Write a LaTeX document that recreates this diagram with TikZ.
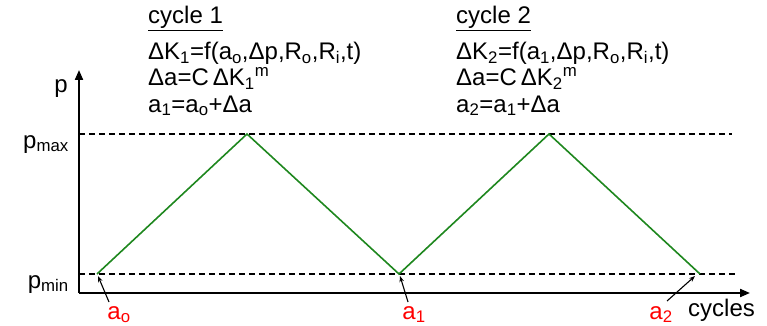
\documentclass[tikz,border=0pt]{standalone}
\usepackage{fontspec}
\setmainfont{Liberation Sans}
\usetikzlibrary{arrows.meta,positioning}
\definecolor{loadgreen}{RGB}{30,135,30}
\newcommand{\sub}[1]{\textsubscript{#1}}

\begin{document}
\begin{tikzpicture}[x=1pt,y=-1pt,font=\fontsize{24}{28}\selectfont,
  axis/.style={line width=2pt,-{Triangle[length=10pt,width=8pt]}},
  level/.style={line width=1.2pt,dash pattern=on 6pt off 4pt},
  load/.style={line width=1.6pt,loadgreen},
  tag/.style={red,anchor=base,inner sep=0pt},
  pointer/.style={line width=1.1pt,-{Stealth[length=6pt,width=4.5pt]}},
  eqn/.style={anchor=base west,inner sep=0pt}]
  \useasboundingbox (0,0) rectangle (767,326);
  % axes
  \coordinate (O) at (79,293);
  \coordinate (ytop) at (79,70);
  \coordinate (xend) at (750,293);
  \draw[axis] (O) -- (ytop);
  \draw[axis] (O) -- (xend);
  \node[anchor=base,inner sep=0pt] (plabel) at (61,93) {p};
  \node[anchor=base west,inner sep=0pt] (cyc) at (688,316) {cycles};
  % pressure levels
  \coordinate (hiL) at (79,134);
  \coordinate (hiR) at (732,134);
  \coordinate (loL) at (79,274);
  \coordinate (loR) at (735,274);
  \draw[level] (hiL) -- (hiR);
  \draw[level] (loL) -- (loR);
  \node[anchor=base east,inner sep=0pt] (pmax) at (69,148) {p\sub{max}};
  \node[anchor=base east,inner sep=0pt] (pmin) at (69,288) {p\sub{min}};
  % load history
  \coordinate (s0) at (97,274);
  \coordinate (t1) at (247,134);
  \coordinate (s1) at (399,274);
  \coordinate (t2) at (549,134);
  \coordinate (s2) at (700,274);
  \draw[load] (s0) -- (t1) -- (s1) -- (t2) -- (s2);
  % crack lengths
  \node[tag] (a0) at (119,319) {a\sub{o}};
  \node[tag] (a1) at (414,319) {a\sub{1}};
  \node[tag] (a2) at (661,319) {a\sub{2}};
  \draw[pointer] (109,302) -- (98,276);
  \draw[pointer] (408,302) -- (400,276);
  \draw[pointer] (667,301) -- (695,276);
  % cycle 1
  \node[eqn] (c1) at (148,24) {\underline{cycle 1}};
  \node[eqn] (c1k) at (148,60) {ΔK\sub{1}=f(a\sub{o},Δp,R\sub{o},R\sub{i},t)};
  \node[eqn] (c1a) at (148,86) {Δa=C\,ΔK\sub{1}\textsuperscript{m}};
  \node[eqn] (c1n) at (148,112) {a\sub{1}=a\sub{o}+Δa};
  % cycle 2
  \node[eqn] (c2) at (456,24) {\underline{cycle 2}};
  \node[eqn] (c2k) at (456,60) {ΔK\sub{2}=f(a\sub{1},Δp,R\sub{o},R\sub{i},t)};
  \node[eqn] (c2a) at (456,86) {Δa=C\,ΔK\sub{2}\textsuperscript{m}};
  \node[eqn] (c2n) at (456,112) {a\sub{2}=a\sub{1}+Δa};
\end{tikzpicture}
\end{document}
